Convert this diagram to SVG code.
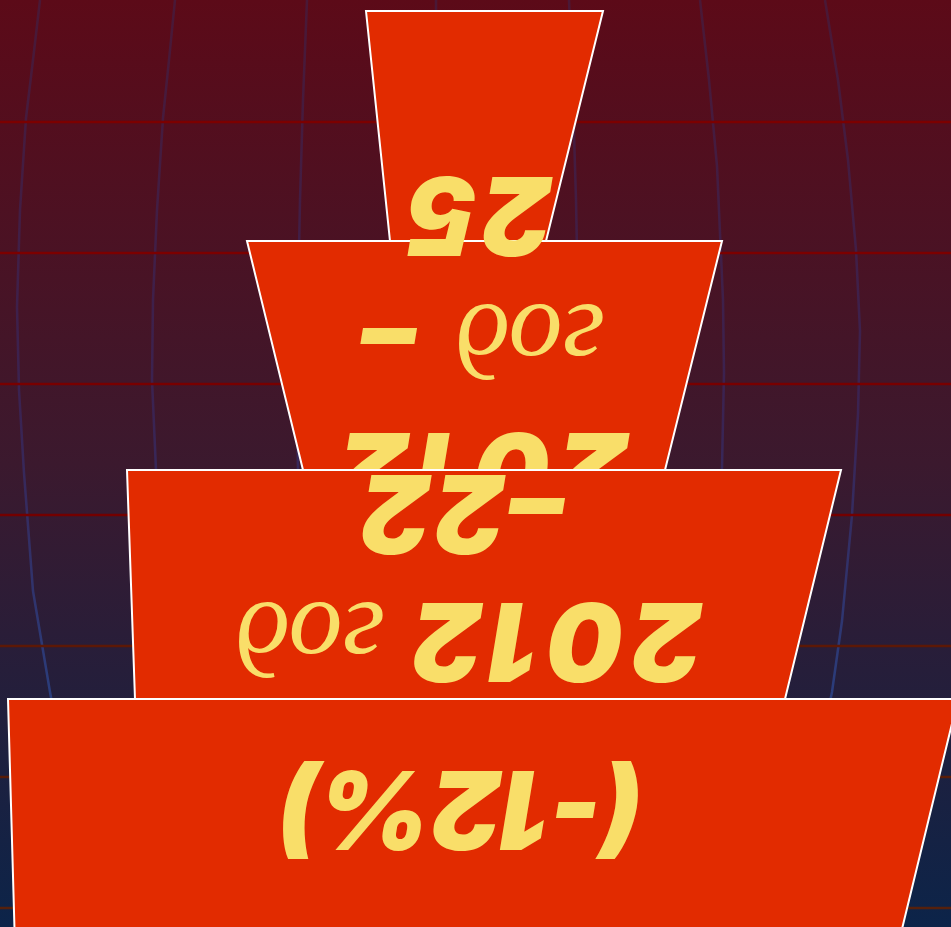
<svg xmlns="http://www.w3.org/2000/svg" width="951" height="927" viewBox="0 0 951 927">
  <defs>
    <linearGradient id="bg" x1="0" y1="0" x2="0" y2="1">
      <stop offset="0" stop-color="#5c0a18"/>
      <stop offset="0.5" stop-color="#3b192e"/>
      <stop offset="1" stop-color="#0c2449"/>
    </linearGradient>
    <linearGradient id="merGrad" gradientUnits="userSpaceOnUse" x1="0" y1="0" x2="0" y2="927">
      <stop offset="0" stop-color="#4a1836"/>
      <stop offset="0.45" stop-color="#3a2352"/>
      <stop offset="0.75" stop-color="#2a3d7c"/>
      <stop offset="1" stop-color="#2a4488"/>
    </linearGradient>
  </defs>
  <style>
    .seg{fill:#e22b00;stroke:#ffffff;stroke-width:2;stroke-linejoin:miter}
    .lbl{fill:#f9de69;font-family:Inter,"Open Sans","Liberation Sans",sans-serif;font-weight:900;font-style:italic;font-size:108px}
    .cy{fill:#f9de69;font-family:"Liberation Serif","DejaVu Serif",serif;font-weight:400;font-style:italic;font-size:108px}
    .hl{stroke-width:2.5;fill:none}
    .mer{fill:none;stroke:url(#merGrad);stroke-width:2.5;stroke-linejoin:round}
  </style>
  <rect x="0" y="0" width="951" height="927" fill="url(#bg)"/>
  <g id="grid">
    <polyline class="mer" points="40,0 33,60 26,118 20,210 17,307 19,390 24,473 33,591 50,692 70,800 90,927"/>
    <polyline class="mer" points="175,0 169,60 163,118 157,210 153,300 152,380 156,470 165,600 180,750 195,927"/>
    <polyline class="mer" points="307,0 303,100 300,200 298,300 297,400 298,470 302,600 310,800 315,927"/>
    <polyline class="mer" points="436,0 436,927"/>
    <polyline class="mer" points="569,0 573,100 576,200 578,300 579,400 578,470 574,600 566,800 561,927"/>
    <polyline class="mer" points="700,0 709,80 717,166 723,300 724,373 722,467 714,600 700,750 685,927"/>
    <polyline class="mer" points="825,0 838,80 848,160 856,250 860,331 858,414 852,515 842,621 832,692 810,800 790,927"/>
    <line class="hl" x1="0" y1="122" x2="951" y2="122" stroke="#7c0000"/>
    <line class="hl" x1="0" y1="253" x2="951" y2="253" stroke="#7c0000"/>
    <line class="hl" x1="0" y1="384" x2="951" y2="384" stroke="#780000"/>
    <line class="hl" x1="0" y1="515" x2="951" y2="515" stroke="#730000"/>
    <line class="hl" x1="0" y1="646" x2="951" y2="646" stroke="#5c1806"/>
    <line class="hl" x1="0" y1="777" x2="951" y2="777" stroke="#581c08"/>
    <line class="hl" x1="0" y1="908" x2="951" y2="908" stroke="#55200c"/>
  </g>
  <g id="stage1">
    <polygon class="seg" points="366,11 603,11 546,241 390,241"/>
  </g>
  <g id="stage2">
    <polygon class="seg" points="247,241 722,241 665,470 303,470"/>
    <text class="lbl" letter-spacing="8" transform="translate(630,433) rotate(180)">2012</text>
    <text class="cy" text-anchor="middle" transform="translate(530,305) rotate(180)">год</text>
    <text class="lbl" text-anchor="middle" transform="translate(389,305) rotate(180)">–</text>
    <text class="lbl" text-anchor="middle" letter-spacing="4" font-size="112" transform="translate(478,177) rotate(180)">25</text>
  </g>
  <g id="stage3">
    <polygon class="seg" points="127,470 841,470 785,699 135,699"/>
    <text class="lbl" letter-spacing="8" transform="translate(703,603) rotate(180)">2012</text>
    <text class="cy" text-anchor="middle" transform="translate(310,603) rotate(180)">год</text>
    <text class="lbl" text-anchor="middle" letter-spacing="4" transform="translate(461,475) rotate(180)">–22</text>
  </g>
  <g id="stage4">
    <polygon class="seg" points="8,699 958,699 902,929 14.5,929"/>
    <text class="lbl" text-anchor="middle" font-size="106" transform="translate(462,771) rotate(180)">(-12%)</text>
  </g>
</svg>
